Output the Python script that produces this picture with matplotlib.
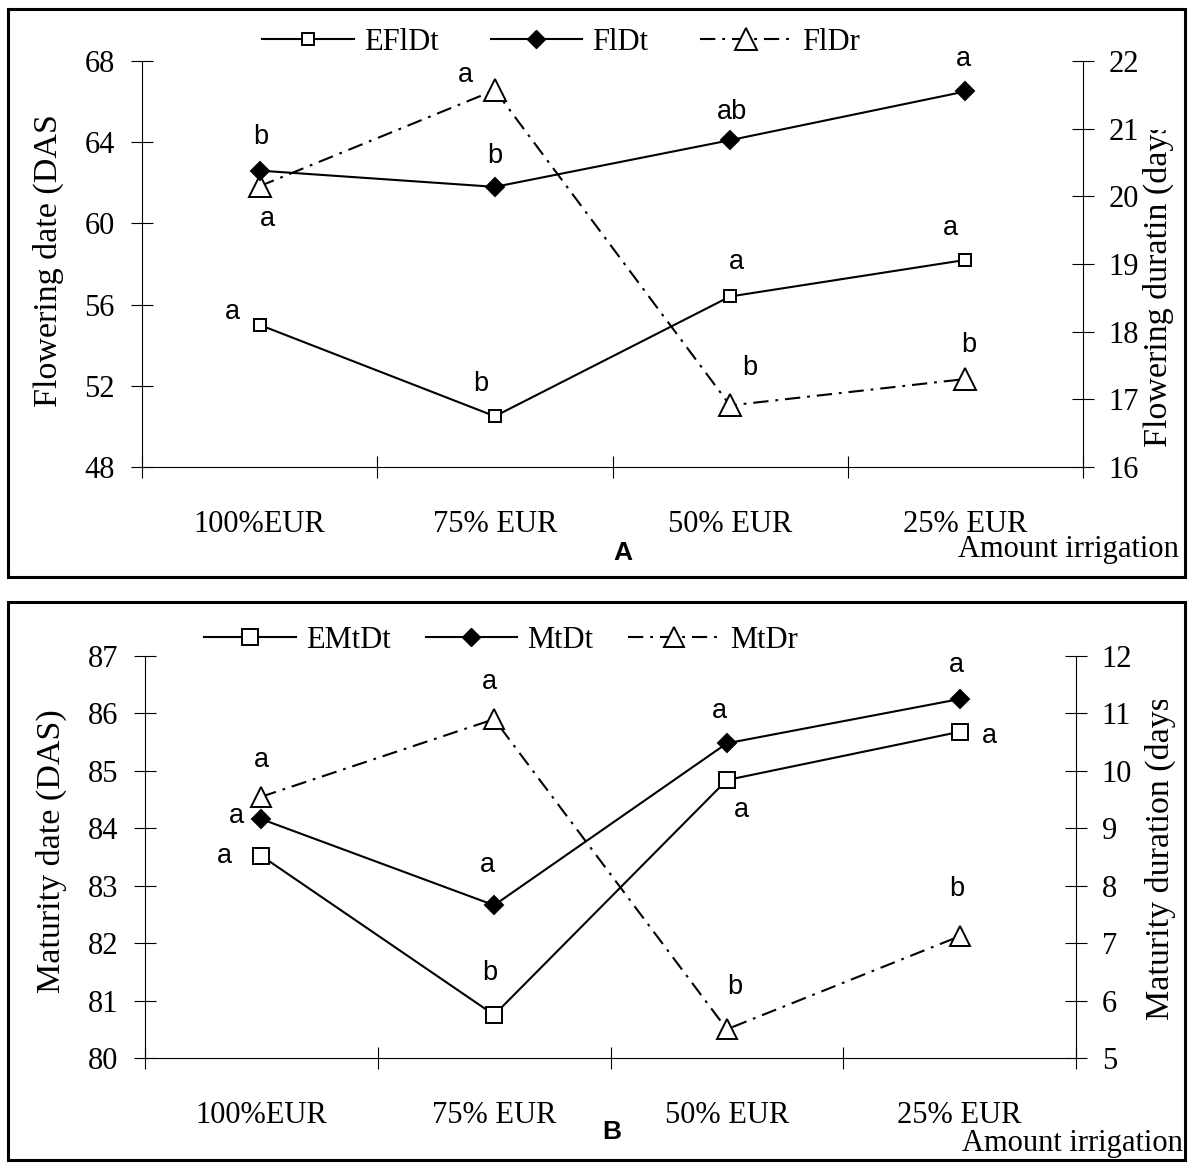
import matplotlib
matplotlib.use("Agg")
import matplotlib.pyplot as plt
from matplotlib.lines import Line2D
from matplotlib.patches import Rectangle
from matplotlib.transforms import Bbox

plt.rcParams['font.family'] = ['Liberation Serif', 'DejaVu Sans']
plt.rcParams['lines.scale_dashes'] = False

W, H = 1188, 1163

categories = ["100%EUR", "75% EUR", "50% EUR", "25% EUR"]

# panel A: flowering
efldt = [55.0, 50.5, 56.4, 58.2]
fldt = [62.6, 61.8, 64.1, 66.5]
fldr = [20.15, 21.57, 16.91, 17.3]
efldt_sig = ["a", "b", "a", "a"]
fldt_sig = ["b", "b", "ab", "a"]
fldr_sig = ["a", "a", "b", "b"]

# panel B: maturity
emtdt = [83.52, 80.75, 84.84, 85.68]
mtdt = [84.16, 82.66, 85.48, 86.25]
mtdr = [9.55, 10.9, 5.5, 7.12]
emtdt_sig = ["a", "b", "a", "a"]
mtdt_sig = ["a", "a", "a", "a"]
mtdr_sig = ["a", "a", "b", "b"]

DASH = (0, (11, 5, 2, 5))
SANS = 'Liberation Sans'

fig = plt.figure(figsize=(W / 100, H / 100), dpi=100)


def px_axes(l, t, r, b):
    return fig.add_axes([l / W, 1 - b / H, (r - l) / W, (b - t) / H])


def fig_xy(x, y):
    return x / W, 1 - y / H


def frame(l, t, r, b):
    fig.add_artist(Rectangle(fig_xy(l, b), (r - l) / W, (b - t) / H, transform=fig.transFigure,
                             fill=False, lw=2.2, ec='black'))


def vlabel(text, x, ybot, clip_top):
    # the reference crops the axis titles at the top
    t = fig.text(*fig_xy(x, ybot), text, rotation=90, ha='center', va='bottom', fontsize=24.5)
    t.set_clip_box(Bbox.from_extents(0, 0, W, H - clip_top))
    t.set_clip_on(True)


def setup(ax, ax2, ylim, yticks, ylim2, yticks2):
    ax.set_zorder(ax2.get_zorder() + 1)
    ax.set_xlim(-0.5, 3.5)
    ax.set_xticks([-0.5, 0.5, 1.5, 2.5, 3.5])
    ax.set_xticklabels([])
    ax.set_xticks(range(4), minor=True)
    ax.set_xticklabels(categories, minor=True, fontsize=22)
    ax.tick_params(axis='x', which='major', direction='inout', length=16, width=0.8)
    ax.tick_params(axis='x', which='minor', length=0, pad=31)
    ax.set_ylim(*ylim)
    ax.set_yticks(yticks)
    ax.tick_params(axis='y', direction='inout', length=16, width=0.8, pad=11.5, labelsize=22)
    ax2.set_ylim(*ylim2)
    ax2.set_yticks(yticks2)
    ax2.tick_params(axis='y', direction='inout', length=16, width=0.8, pad=10.5, labelsize=22)
    for a in (ax, ax2):
        a.patch.set_visible(False)
        for s in a.spines.values():
            s.set_linewidth(0.8)
        a.spines['top'].set_visible(False)
    ax.spines['right'].set_visible(False)
    ax2.spines['left'].set_visible(False)
    ax2.spines['bottom'].set_visible(False)


def series(ax, vals, marker, ms, face, ls='-'):
    ax.plot(range(4), vals, color='black', lw=1.5, ls=ls, marker=marker, ms=ms,
            mfc=face, mec='black', mew=1.4, clip_on=False, zorder=3)


def letters(ax, vals, sig, offs):
    for i, (v, s, o) in enumerate(zip(vals, sig, offs)):
        ax.annotate(s, (i, v), xytext=o, textcoords='offset pixels', ha='center', va='center',
                    fontsize=19.5, family=SANS)


# ---------------- panel A ----------------
frame(8, 9, 1185, 577)
ax = px_axes(142, 61, 1083, 467)
ax2 = ax.twinx()
setup(ax, ax2, (48, 68), range(48, 69, 4), (16, 22), range(16, 23))
series(ax, efldt, 's', 8.6, 'white')
series(ax, fldt, 'D', 9.5, 'black')
series(ax2, fldr, '^', 16, 'white', DASH)
letters(ax, efldt, efldt_sig, [(-27, 13), (-14, 32), (6, 34), (-15, 32)])
letters(ax, fldt, fldt_sig, [(1, 34), (0, 31), (2, 28), (-2, 32)])
letters(ax2, fldr, fldr_sig, [(8, -33), (-29, 15), (20, 37), (3, 34)])

handles = [Line2D([], [], color='k', lw=1.5, marker='s', ms=8.6, mfc='white', mew=1.4),
           Line2D([], [], color='k', lw=1.5, marker='D', ms=9.5, mfc='black'),
           Line2D([], [], color='k', lw=1.5, ls=DASH, marker='^', ms=16, mfc='white', mew=1.4)]
fig.legend(handles, ["EFlDt", "FlDt", "FlDr"], loc='center', bbox_to_anchor=fig_xy(561, 42),
           ncol=3, frameon=False, fontsize=22, handlelength=3.0, handletextpad=0.33,
           columnspacing=1.7, borderpad=0, numpoints=1)

vlabel("Flowering date (DAS)", 48, 407, 114)
vlabel("Flowering duratin (days)", 1158, 447, 130)
fig.text(*fig_xy(1179, 557), "Amount irrigation", ha='right', va='baseline', fontsize=22)
fig.text(*fig_xy(623, 553), "A", ha='center', va='center', fontsize=19, family=SANS, weight='bold')

# ---------------- panel B ----------------
frame(8, 602, 1185, 1160)
bx = px_axes(145, 656, 1076, 1058)
bx2 = bx.twinx()
setup(bx, bx2, (80, 87), range(80, 88), (5, 12), range(5, 13))
series(bx, emtdt, 's', 11.5, 'white')
series(bx, mtdt, 'D', 8.7, 'black')
series(bx2, mtdr, '^', 14.5, 'white', DASH)
letters(bx, emtdt, emtdt_sig, [(-37, 0), (-4, 42), (15, -30), (30, -4)])
letters(bx, mtdt, mtdt_sig, [(-25, 3), (-7, 40), (-7, 32), (-3, 34)])
letters(bx2, mtdr, mtdr_sig, [(0, 37), (-5, 37), (8, 42), (-3, 47)])

handles = [Line2D([], [], color='k', lw=1.5, marker='s', ms=11.5, mfc='white', mew=1.4),
           Line2D([], [], color='k', lw=1.5, marker='D', ms=8.7, mfc='black'),
           Line2D([], [], color='k', lw=1.5, ls=DASH, marker='^', ms=14.5, mfc='white', mew=1.4)]
fig.legend(handles, ["EMtDt", "MtDt", "MtDr"], loc='center', bbox_to_anchor=fig_xy(501, 640),
           ncol=3, frameon=False, fontsize=22, handlelength=3.0, handletextpad=0.33,
           columnspacing=1.14, borderpad=0, numpoints=1)

vlabel("Maturity date (DAS)", 51, 993, 0)
vlabel("Maturity duration (days)", 1160, 1020, 700)
fig.text(*fig_xy(1183, 1151), "Amount irrigation", ha='right', va='baseline', fontsize=22)
fig.text(*fig_xy(612, 1132), "B", ha='center', va='center', fontsize=19, family=SANS, weight='bold')

fig.savefig("out.png", dpi=100, facecolor='white')
